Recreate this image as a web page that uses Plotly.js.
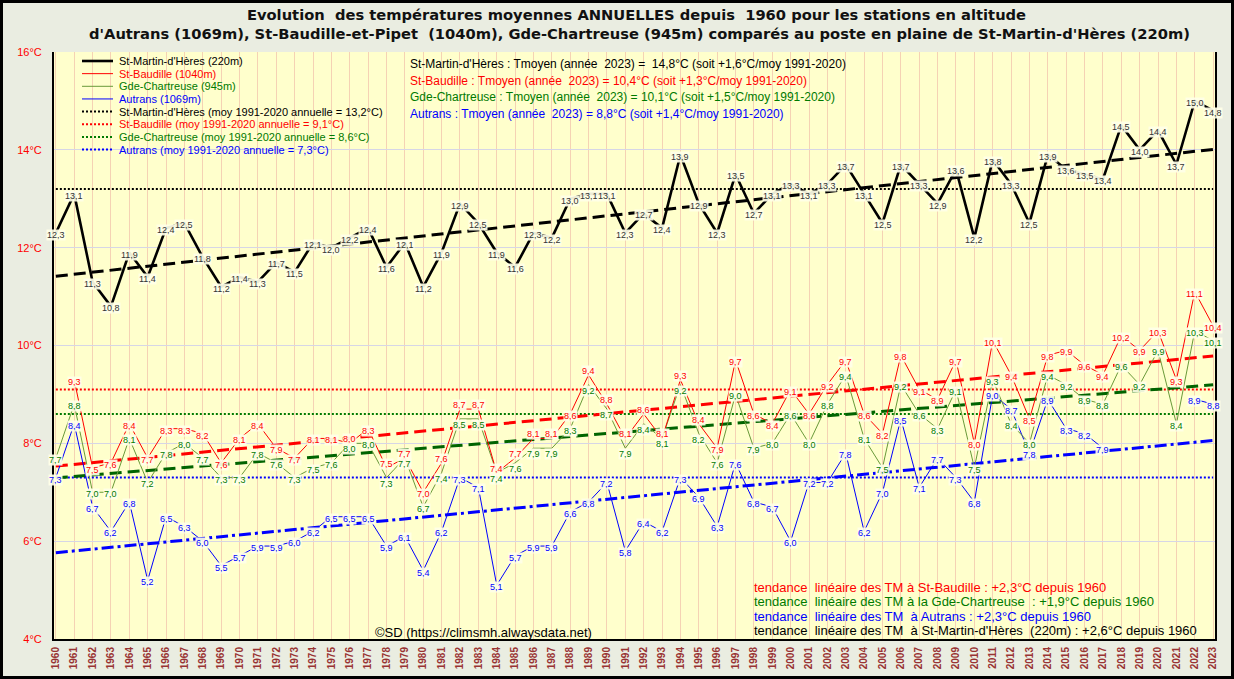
<!DOCTYPE html>
<html><head><meta charset="utf-8">
<script src="https://cdn.plot.ly/plotly-3.0.1.min.js"></script>
<style>
html,body{margin:0;padding:0;background:#000;}
#chart{width:1228px;height:673px;border:3px solid #000;}
</style>
</head><body><div id="chart"></div>
<script>
// ---------- DATA ----------
const years = [1960,1961,1962,1963,1964,1965,1966,1967,1968,1969,
  1970,1971,1972,1973,1974,1975,1976,1977,1978,1979,
  1980,1981,1982,1983,1984,1985,1986,1987,1988,1989,
  1990,1991,1992,1993,1994,1995,1996,1997,1998,1999,
  2000,2001,2002,2003,2004,2005,2006,2007,2008,2009,
  2010,2011,2012,2013,2014,2015,2016,2017,2018,2019,
  2020,2021,2022,2023];

const stMartin = [12.3,13.1,11.3,10.8,11.9,11.4,12.4,12.5,11.8,11.2,
  11.4,11.3,11.7,11.5,12.1,12.0,12.2,12.4,11.6,12.1,
  11.2,11.9,12.9,12.5,11.9,11.6,12.3,12.2,13.0,13.1,
  13.1,12.3,12.7,12.4,13.9,12.9,12.3,13.5,12.7,13.1,
  13.3,13.1,13.3,13.7,13.1,12.5,13.7,13.3,12.9,13.6,
  12.2,13.8,13.3,12.5,13.9,13.6,13.5,13.4,14.5,14.0,
  14.4,13.7,15.0,14.8];

const stBaudille = [null,9.3,7.5,7.6,8.4,7.7,8.3,8.3,8.2,7.6,
  8.1,8.4,7.9,7.7,8.1,8.1,8.0,8.3,7.5,7.7,
  7.0,7.6,8.7,8.7,7.4,7.7,8.1,8.1,8.6,9.4,
  8.8,8.1,8.6,8.1,9.3,8.4,7.9,9.7,8.6,8.4,
  9.1,8.6,9.2,9.7,8.6,8.2,9.8,9.1,8.9,9.7,
  8.0,10.1,9.4,8.5,9.8,9.9,9.6,9.4,10.2,9.9,
  10.3,9.3,11.1,10.4];

const gdeChartreuse = [7.7,8.8,7.0,7.0,8.1,7.2,7.8,8.0,7.7,7.3,
  7.3,7.8,7.6,7.3,7.5,7.6,8.0,8.0,7.3,7.7,
  6.7,7.4,8.5,8.5,7.4,7.6,7.9,7.9,8.3,9.2,
  8.7,7.9,8.4,8.1,9.2,8.2,7.6,9.0,7.9,8.0,
  8.6,8.0,8.8,9.4,8.1,7.5,9.2,8.6,8.3,9.1,
  7.5,9.3,8.4,8.0,9.4,9.2,8.9,8.8,9.6,9.2,
  9.9,8.4,10.3,10.1];

const autrans = [7.3,8.4,6.7,6.2,6.8,5.2,6.5,6.3,6.0,5.5,
  5.7,5.9,5.9,6.0,6.2,6.5,6.5,6.5,5.9,6.1,
  5.4,6.2,7.3,7.1,5.1,5.7,5.9,5.9,6.6,6.8,
  7.2,5.8,6.4,6.2,7.3,6.9,6.3,7.6,6.8,6.7,
  6.0,7.2,7.2,7.8,6.2,7.0,8.5,7.1,7.7,7.3,
  6.8,9.0,8.7,7.8,8.9,8.3,8.2,7.9,null,null,
  null,null,8.9,8.8];

// 1991-2020 normals (from legend)
const meanStMartin = 13.2, meanStBaudille = 9.1, meanGde = 8.6, meanAutrans = 7.3;

const seriesNames = ["St-Martin-d'Hères (220m)","St-Baudille (1040m)","Gde-Chartreuse (945m)","Autrans (1069m)"];
const meanNames = ["St-Martin-d'Hères (moy 1991-2020 annuelle = 13,2°C)",
  "St-Baudille (moy 1991-2020 annuelle = 9,1°C)",
  "Gde-Chartreuse (moy 1991-2020 annuelle = 8,6°C)",
  "Autrans (moy 1991-2020 annuelle = 7,3°C)"];
const infoLines = ["St-Martin-d'Hères : Tmoyen (année  2023) =  14,8°C (soit +1,6°C/moy 1991-2020)",
  "St-Baudille : Tmoyen (année  2023) = 10,4°C (soit +1,3°C/moy 1991-2020)",
  "Gde-Chartreuse : Tmoyen (année  2023) = 10,1°C (soit +1,5°C/moy 1991-2020)",
  "Autrans : Tmoyen (année  2023) = 8,8°C (soit +1,4°C/moy 1991-2020)"];
const trendLines = ["tendance  linéaire des TM à St-Baudille : +2,3°C depuis 1960",
  "tendance  linéaire des TM à la Gde-Chartreuse  : +1,9°C depuis 1960",
  "tendance  linéaire des TM  à Autrans : +2,3°C depuis 1960",
  "tendance  linéaire des TM  à St-Martin-d'Hères  (220m) : +2,6°C depuis 1960"];
const titleLine1 = "Evolution  des températures moyennes ANNUELLES depuis  1960 pour les stations en altitude";
const titleLine2 = "d'Autrans (1069m), St-Baudille-et-Pipet  (1040m), Gde-Chartreuse (945m) comparés au poste en plaine de St-Martin-d'Hères (220m)";
const credit = "©SD (https://climsmh.alwaysdata.net)";
const yTicks = [4,6,8,10,12,14,16];

// ---------- HELPERS ----------
function linFit(xs, ys){
  let n=0,sx=0,sy=0,sxx=0,sxy=0;
  xs.forEach((x,i)=>{const y=ys[i]; if(y===null) return; n++; sx+=x; sy+=y; sxx+=x*x; sxy+=x*y;});
  const b=(n*sxy-sx*sy)/(n*sxx-sx*sx), a=(sy-b*sx)/n;
  return xs.map(x=>a+b*x);
}
const fmt = v => v.toFixed(1).replace('.', ',');

const BLACK='#000000', RED='#FF0000', GREEN_LINE='#6A9A3A', GREEN_TXT='#007A00', GREEN_TREND='#006400', BLUE='#0000FF';
const FONT='Liberation Sans, Arial, sans-serif';
const TFONT='DejaVu Sans, Verdana, sans-serif';

const traces = [];
[[meanStMartin,BLACK],[meanStBaudille,RED],[meanGde,GREEN_TXT],[meanAutrans,BLUE]].forEach(([m,c])=>{
  traces.push({x:years, y:years.map(()=>m), mode:'lines', line:{color:c,width:2,dash:'2px,2px'}, hoverinfo:'skip', showlegend:false});
});
traces.push({x:years, y:linFit(years,stMartin), mode:'lines', line:{color:BLACK,width:3,dash:'12px,6px'}, showlegend:false, hoverinfo:'skip'});
traces.push({x:years, y:linFit(years,stBaudille), mode:'lines', line:{color:RED,width:3,dash:'12px,6px'}, showlegend:false, hoverinfo:'skip'});
traces.push({x:years, y:linFit(years,gdeChartreuse), mode:'lines', line:{color:GREEN_TREND,width:3,dash:'12px,6px'}, showlegend:false, hoverinfo:'skip'});
traces.push({x:years, y:linFit(years,autrans), mode:'lines', line:{color:BLUE,width:3,dash:'12px,4px,3px,4px'}, showlegend:false, hoverinfo:'skip'});
traces.push({x:years, y:autrans, name:seriesNames[3], mode:'lines', line:{color:BLUE,width:1}, connectgaps:false, showlegend:false});
traces.push({x:years, y:gdeChartreuse, name:seriesNames[2], mode:'lines', line:{color:GREEN_LINE,width:1}, showlegend:false});
traces.push({x:years, y:stBaudille, name:seriesNames[1], mode:'lines', line:{color:RED,width:1}, connectgaps:false, showlegend:false});
traces.push({x:years, y:stMartin, name:seriesNames[0], mode:'lines', line:{color:BLACK,width:2.6}, showlegend:false});

// ---------- ANNOTATIONS ----------
const ann = [];
function addLabels(vals, color, shiftFn){
  vals.forEach((v,i)=>{ if(v===null) return;
    ann.push({x:years[i], y:v, xref:'x', yref:'y', text:fmt(v), showarrow:false,
      font:{family:FONT,size:9,color:color}, bgcolor:'rgba(255,255,232,0.92)', borderpad:0, yshift:shiftFn(i)});
  });
}
const close = i => stBaudille[i]!==null && Math.abs(stBaudille[i]-gdeChartreuse[i]) <= 0.21;
addLabels(stMartin,'#333333', ()=>-2);
addLabels(stBaudille,RED, i=> close(i) ? 4 : -2);
addLabels(gdeChartreuse,GREEN_TXT, i=> close(i) ? -6 : -2);
addLabels(autrans,BLUE, ()=>-2);

const PL=54, PR=1215, PT=52, PB=639;
const px = X => (X-PL)/(PR-PL);
const py = Y => (PB-Y)/(PB-PT);

const legendColors=[BLACK,RED,GREEN_TXT,BLUE,BLACK,RED,GREEN_TXT,BLUE];
const legendTexts = seriesNames.concat(meanNames);
const shapes = [];
shapes.push({type:'rect', xref:'paper', yref:'paper', x0:px(55), x1:px(402), y0:py(157), y1:py(52), fillcolor:'#FFFFCC', line:{width:0}, layer:'between'});
shapes.push({type:'rect', xref:'paper', yref:'paper', x0:px(392), x1:px(852), y0:py(122), y1:py(52), fillcolor:'#FFFFCC', line:{width:0}, layer:'between'});
legendTexts.forEach((t,i)=>{
  const Y = 61 + 12.65*i;
  const lineStyle = i<4 ? {color:[BLACK,RED,GREEN_LINE,BLUE][i], width: i===0?2.6:1} : {color:legendColors[i], width:2, dash:'2px,2px'};
  shapes.push({type:'line', xref:'paper', yref:'paper', x0:px(82), x1:px(113), y0:py(Y), y1:py(Y), line:lineStyle});
  ann.push({xref:'paper', yref:'paper', x:px(117), y:py(Y), xanchor:'left', yanchor:'middle', text:t, showarrow:false,
    font:{family:FONT,size:11,color:legendColors[i]}});
});
const infoColors=[BLACK,RED,GREEN_TXT,BLUE];
infoLines.forEach((t,i)=>{
  ann.push({xref:'paper', yref:'paper', x:px(408), y:py(64+16.6*i), xanchor:'left', yanchor:'middle', text:t, showarrow:false,
    font:{family:FONT,size:12,color:infoColors[i]}});
});
const trendColors=[RED,GREEN_TXT,BLUE,BLACK];
trendLines.forEach((t,i)=>{
  ann.push({xref:'paper', yref:'paper', x:px(752), y:py(587+14.6*i), xanchor:'left', yanchor:'middle', text:t, showarrow:false,
    font:{family:FONT,size:13,color:trendColors[i]}});
});
ann.push({xref:'paper', yref:'paper', x:px(483), y:py(632), xanchor:'center', yanchor:'middle', text:credit, showarrow:false,
  font:{family:FONT,size:13,color:BLACK}});
ann.push({xref:'paper', yref:'paper', x:px(639), y:py(33.5), xanchor:'center', yanchor:'middle', text:titleLine2, showarrow:false,
  font:{family:TFONT,size:14.7,color:'#111',weight:'bold'}});

const layout = {
  width:1228, height:673,
  margin:{l:51, r:16, t:49, b:37},
  paper_bgcolor:'#EAEDE1', plot_bgcolor:'#FFFFCC',
  title:{text:titleLine1, font:{family:TFONT,size:14.7,color:'#111',weight:'bold'},
    x:(636.5-3)/1228, xref:'container', xanchor:'center', y:1-(15-3)/673, yref:'container', yanchor:'middle'},
  xaxis:{range:[1959.9,2023.1], tickmode:'array', tickvals:years, ticktext:years.map(String), tickangle:-90,
    tickfont:{family:FONT,size:10,color:'#993333',weight:'bold'}, showgrid:true, gridcolor:'#F5D2B4', gridwidth:1,
    showline:true, linecolor:'#000', linewidth:2, mirror:false, zeroline:false, ticks:'', ticklabelstandoff:2},
  yaxis:{range:[4,16], tickmode:'array', tickvals:yTicks, ticktext:yTicks.map(v=>v+'°C'),
    tickfont:{family:FONT,size:11,color:RED}, showgrid:true, gridcolor:'#D6D6E6', gridwidth:1,
    showline:true, linecolor:'#000', linewidth:2, mirror:true, zeroline:false, ticks:'', ticklabelstandoff:8},
  showlegend:false,
  annotations:ann, shapes:shapes
};
Plotly.newPlot('chart', traces, layout, {displayModeBar:false, staticPlot:true});
</script>
</body></html>
